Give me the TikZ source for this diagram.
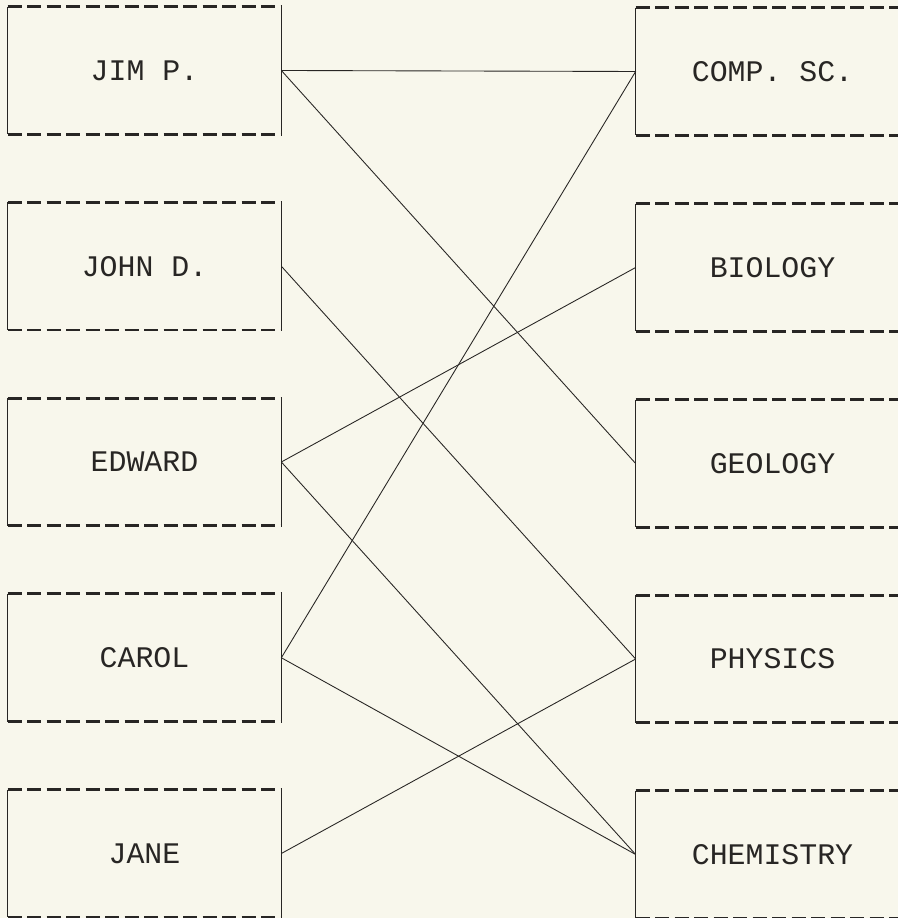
\documentclass[tikz,border=0pt]{standalone}
\usepackage{fontspec}
\setmonofont{Liberation Mono}
\definecolor{paper}{RGB}{248,247,236}
\definecolor{ink}{RGB}{40,38,36}
\begin{document}
\begin{tikzpicture}[
    card/.style={rectangle, minimum width=5.46cm, minimum height=2.54cm, inner sep=0pt, text=ink, font=\ttfamily\fontsize{17}{20}\selectfont},
    side/.style={ink, line width=0.7pt},
    rule/.style={ink, line width=1.6pt, dash pattern=on 0.28cm off 0.11cm},
    link/.style={ink, line width=0.5pt}
]
    % Page
    \fill[paper] (0,0) rectangle (17.96,18.36);
    \useasboundingbox (0,0) rectangle (17.96,18.36);

    % Left side: people
    \node[card] (jim) at (2.89, 16.95) {JIM P.};
    \node[card] (john) at (2.89, 13.035) {JOHN D.};
    \node[card] (edward) at (2.89, 9.12) {EDWARD};
    \node[card] (carol) at (2.89, 5.205) {CAROL};
    \node[card] (jane) at (2.89, 1.29) {JANE};

    % Right side: subjects
    \node[card] (comp) at (15.45, 16.93) {COMP. SC.};
    \node[card] (bio) at (15.45, 13.01) {BIOLOGY};
    \node[card] (geo) at (15.45, 9.09) {GEOLOGY};
    \node[card] (phys) at (15.45, 5.18) {PHYSICS};
    \node[card] (chem) at (15.45, 1.27) {CHEMISTRY};

    % Box edges
    \foreach \n in {jim,john,edward,carol,jane,comp,bio,geo,phys,chem} {
        \draw[side] (\n.north west) -- (\n.south west) (\n.north east) -- (\n.south east);
        \draw[rule] (\n.north west) -- (\n.north east) (\n.south west) -- (\n.south east);
    }

    % Links
    \draw[link] (jim.east) -- (comp.west);
    \draw[link] (jim.east) -- (geo.west);
    \draw[link] (john.east) -- (phys.west);
    \draw[link] (edward.east) -- (bio.west);
    \draw[link] (edward.east) -- (chem.west);
    \draw[link] (carol.east) -- (comp.west);
    \draw[link] (carol.east) -- (chem.west);
    \draw[link] (jane.east) -- (phys.west);
\end{tikzpicture}
\end{document}
